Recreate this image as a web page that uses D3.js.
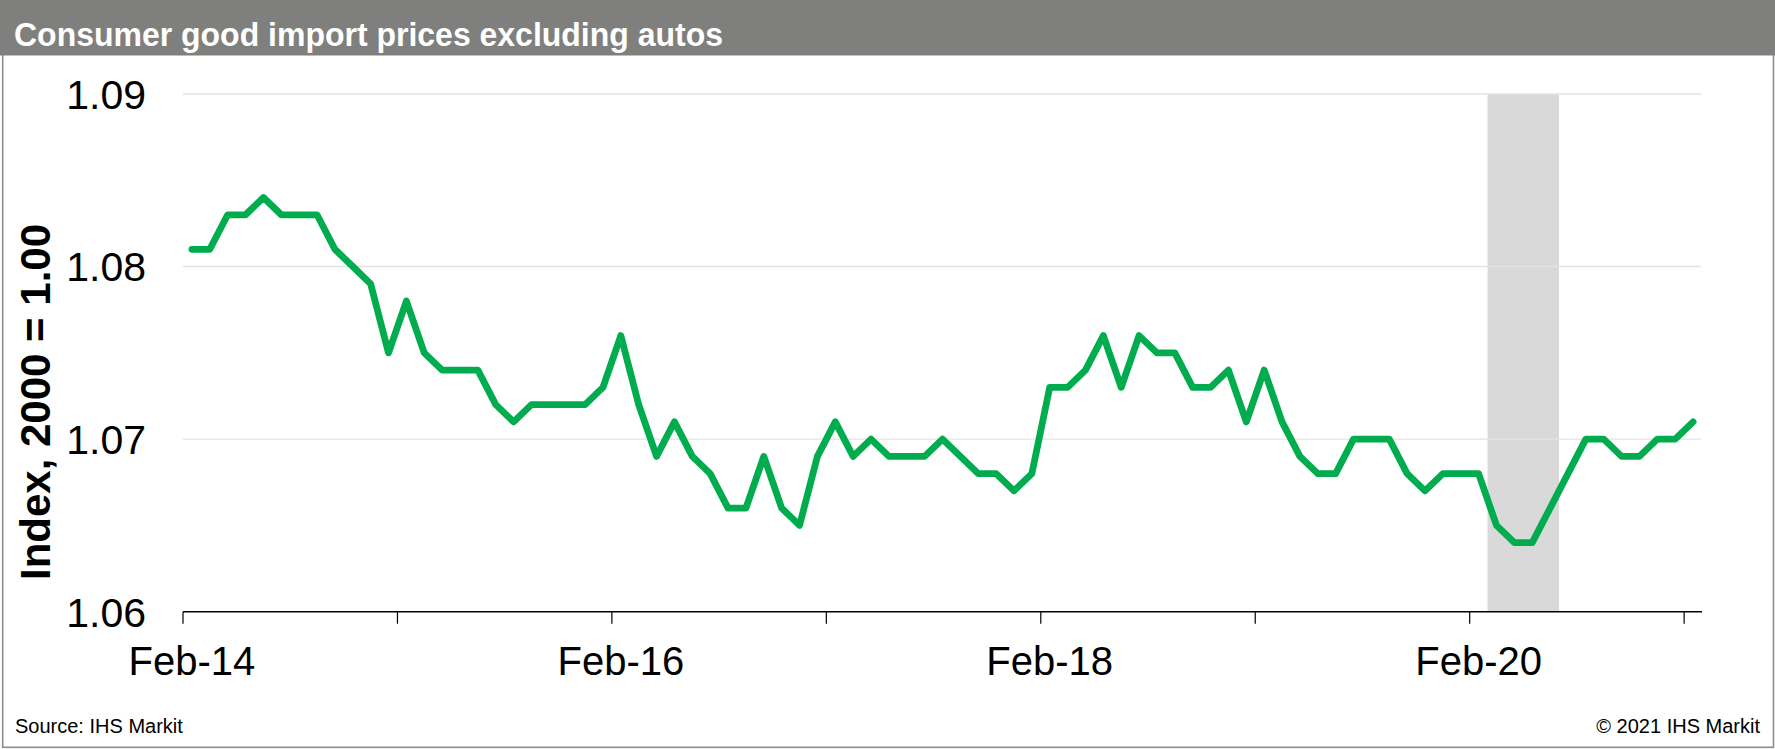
<!DOCTYPE html>
<html>
<head>
<meta charset="utf-8">
<script src="https://cdn.jsdelivr.net/npm/d3@7"></script>
<style>
  html, body { margin: 0; padding: 0; background: #fff; }
  svg { display: block; font-family: "Liberation Sans", Arial, sans-serif; }
</style>
</head>
<body>
<svg id="chart" width="1775" height="749"></svg>
<script>
// ---- data ----
const months = [
  "2014-02","2014-03","2014-04","2014-05","2014-06","2014-07","2014-08","2014-09","2014-10","2014-11","2014-12",
  "2015-01","2015-02","2015-03","2015-04","2015-05","2015-06","2015-07","2015-08","2015-09","2015-10","2015-11","2015-12",
  "2016-01","2016-02","2016-03","2016-04","2016-05","2016-06","2016-07","2016-08","2016-09","2016-10","2016-11","2016-12",
  "2017-01","2017-02","2017-03","2017-04","2017-05","2017-06","2017-07","2017-08","2017-09","2017-10","2017-11","2017-12",
  "2018-01","2018-02","2018-03","2018-04","2018-05","2018-06","2018-07","2018-08","2018-09","2018-10","2018-11","2018-12",
  "2019-01","2019-02","2019-03","2019-04","2019-05","2019-06","2019-07","2019-08","2019-09","2019-10","2019-11","2019-12",
  "2020-01","2020-02","2020-03","2020-04","2020-05","2020-06","2020-07","2020-08","2020-09","2020-10","2020-11","2020-12",
  "2021-01","2021-02"
];
const indexValues = [
  1.081,1.081,1.083,1.083,1.084,1.083,1.083,1.083,1.081,1.080,1.079,
  1.075,1.078,1.075,1.074,1.074,1.074,1.072,1.071,1.072,1.072,1.072,1.072,
  1.073,1.076,1.072,1.069,1.071,1.069,1.068,1.066,1.066,1.069,1.066,1.065,
  1.069,1.071,1.069,1.070,1.069,1.069,1.069,1.070,1.069,1.068,1.068,1.067,
  1.068,1.073,1.073,1.074,1.076,1.073,1.076,1.075,1.075,1.073,1.073,1.074,
  1.071,1.074,1.071,1.069,1.068,1.068,1.070,1.070,1.070,1.068,1.067,1.068,
  1.068,1.068,1.065,1.064,1.064,1.066,1.068,1.070,1.070,1.069,1.069,1.070,
  1.070,1.071
];
const tickMonths = ["2014-02","2015-02","2016-02","2017-02","2018-02","2019-02","2020-02","2021-02"];
const labelMonths = ["2014-02","2016-02","2018-02","2020-02"];
const xTickLabels = ["Feb-14","Feb-16","Feb-18","Feb-20"];
const yTicks = [1.06, 1.07, 1.08, 1.09];
const yTickLabels = ["1.06","1.07","1.08","1.09"];
const shadedMonths = ["2020-03","2020-04","2020-05","2020-06"];
const titleText = "Consumer good import prices excluding autos";
const yTitle = "Index, 2000 = 1.00";
const sourceText = "Source: IHS Markit";
const copyrightText = "\u00A9 2021 IHS Markit";

// ---- layout ----
const W = 1775, H = 749;
const plot = { left: 183, right: 1702, top: 94, bottom: 611.7 };

const svg = d3.select("#chart");

// frame
svg.append("rect").attr("x", 2.7).attr("y", 0).attr("width", 1773.5 - 2.7).attr("height", 747.3)
  .attr("fill", "#fff").attr("stroke", "#8c8c8c").attr("stroke-width", 1.6);

// title bar
svg.append("rect").attr("x", 0).attr("y", 0).attr("width", W).attr("height", 55.5).attr("fill", "#7f807e");
svg.append("text").attr("x", 14).attr("y", 46).attr("fill", "#fff")
  .attr("font-weight", "bold").attr("font-size", 34)
  .attr("textLength", 709).attr("lengthAdjust", "spacingAndGlyphs")
  .text(titleText);

// scales
const x = d3.scaleBand().domain(months).range([plot.left, plot.right]).padding(0);
const y = d3.scaleLinear().domain([1.06, 1.09]).range([plot.bottom, plot.top]);

// shading
svg.append("rect")
  .attr("x", x(shadedMonths[0]))
  .attr("y", y(1.09))
  .attr("width", x(shadedMonths[shadedMonths.length - 1]) + x.bandwidth() - x(shadedMonths[0]))
  .attr("height", y(1.06) - y(1.09))
  .attr("fill", "#d9d9d9");

// gridlines (above 1.06)
svg.append("g").selectAll("line").data(yTicks.filter(v => v > 1.06)).join("line")
  .attr("x1", plot.left).attr("x2", plot.right - 1)
  .attr("y1", d => y(d)).attr("y2", d => y(d))
  .attr("stroke", "#e3e3e3").attr("stroke-width", 1.4);

// y axis labels
const yAxis = d3.axisLeft(y).tickValues(yTicks).tickSize(0).tickPadding(0)
  .tickFormat((d, i) => yTickLabels[i]);
const yg = svg.append("g").attr("transform", `translate(146,0)`).call(yAxis);
yg.select(".domain").remove();
yg.selectAll("text").attr("font-size", 41).attr("fill", "#000")
  .attr("font-family", "Liberation Sans, Arial, sans-serif").attr("dy", "0.35em");

// x axis line
svg.append("line").attr("x1", plot.left).attr("x2", plot.right)
  .attr("y1", plot.bottom).attr("y2", plot.bottom)
  .attr("stroke", "#000").attr("stroke-width", 1.4);
// x ticks at band starts
svg.append("g").selectAll("line").data(tickMonths).join("line")
  .attr("x1", d => x(d)).attr("x2", d => x(d))
  .attr("y1", plot.bottom).attr("y2", plot.bottom + 12)
  .attr("stroke", "#000").attr("stroke-width", 1.2);
// x labels at band centers
const xAxis = d3.axisBottom(x).tickValues(labelMonths).tickSize(0).tickPadding(0)
  .tickFormat((d, i) => xTickLabels[i]);
const xg = svg.append("g").attr("transform", `translate(0,${plot.bottom})`).call(xAxis);
xg.select(".domain").remove();
xg.selectAll("text").attr("font-size", 40).attr("fill", "#000")
  .attr("font-family", "Liberation Sans, Arial, sans-serif")
  .attr("dy", null).attr("y", 63.3);

// line
const line = d3.line()
  .x((d, i) => x(months[i]) + x.bandwidth() / 2)
  .y(d => y(d));
svg.append("path").datum(indexValues)
  .attr("d", line)
  .attr("fill", "none").attr("stroke", "#00ac4e").attr("stroke-width", 6.8)
  .attr("stroke-linejoin", "round").attr("stroke-linecap", "round");

// y title
svg.append("text")
  .attr("transform", "translate(50,402) rotate(-90)")
  .attr("text-anchor", "middle").attr("font-weight", "bold").attr("font-size", 42)
  .attr("fill", "#000").text(yTitle);

// footer
svg.append("text").attr("x", 15).attr("y", 732.7).attr("font-size", 20).attr("fill", "#000").text(sourceText);
svg.append("text").attr("x", 1760).attr("y", 732.7).attr("text-anchor", "end")
  .attr("font-size", 20).attr("fill", "#000").text(copyrightText);
</script>
</body>
</html>
